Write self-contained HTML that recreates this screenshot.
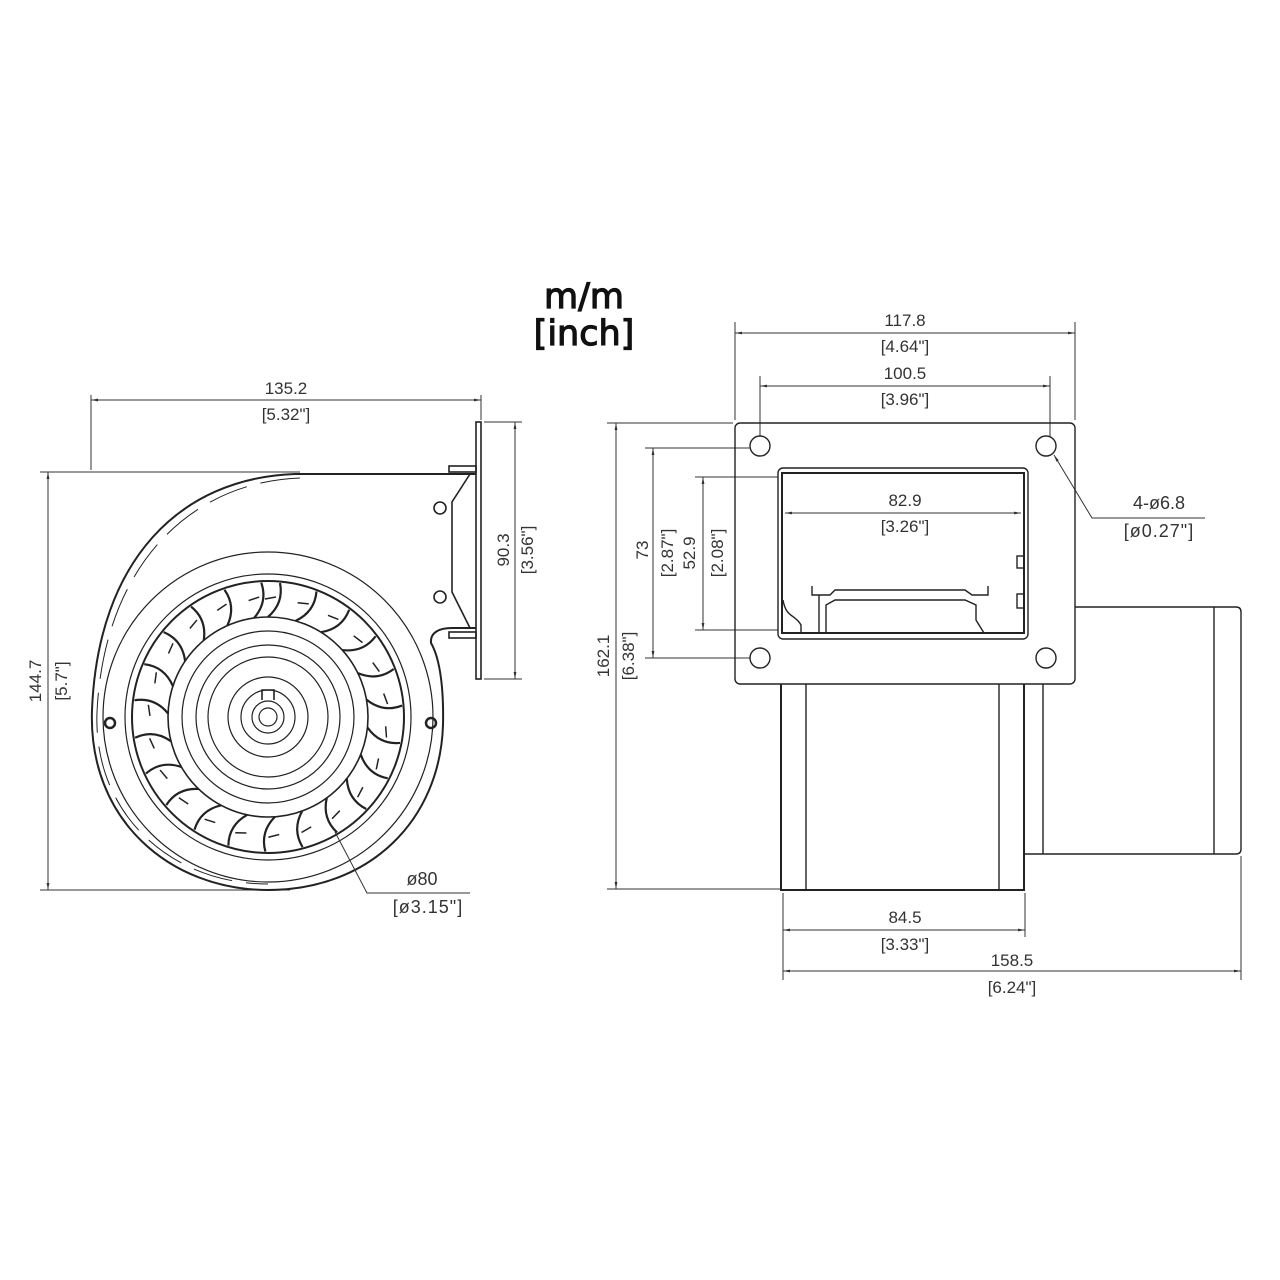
<!DOCTYPE html>
<html><head><meta charset="utf-8"><style>
html,body{margin:0;padding:0;background:#fff;}
svg{display:block;}
text{font-family:"Liberation Sans",Arial,sans-serif;fill:#333;font-size:17px;}
.t{font-family:"DejaVu Sans",sans-serif;fill:#111;font-size:35px;font-weight:normal;stroke:#111;stroke-width:1.2;}
</style></head><body>
<svg width="1280" height="1280" viewBox="0 0 1280 1280" xmlns="http://www.w3.org/2000/svg">
<defs>
<marker id="a" viewBox="0 0 10 10" refX="10" refY="5" markerWidth="7" markerHeight="7" orient="auto-start-reverse"><path d="M0,3 L10,5 L0,7 z" fill="#333"/></marker>
<g id="bl"><path d="M0,-100 Q16,-114 12,-134" fill="none" stroke="#222" stroke-width="2.2"/><path d="M-3,-118 L8,-120" stroke="#222" stroke-width="1.5"/></g>
</defs>
<text class="t" x="584" y="308" text-anchor="middle">m/m</text>
<text class="t" x="584" y="345" text-anchor="middle">[inch]</text>

<!-- LEFT VIEW -->
<g fill="none" stroke="#333" stroke-width="1">
<line x1="91" y1="395" x2="91" y2="470"/>
<line x1="481" y1="395" x2="481" y2="420"/>
<line x1="91" y1="400" x2="481" y2="400" marker-start="url(#a)" marker-end="url(#a)"/>
<line x1="40" y1="472" x2="300" y2="472"/>
<line x1="40" y1="890" x2="290" y2="890"/>
<line x1="48" y1="472" x2="48" y2="890" marker-start="url(#a)" marker-end="url(#a)"/>
<line x1="484" y1="422" x2="522" y2="422"/>
<line x1="484" y1="679" x2="522" y2="679"/>
<line x1="515" y1="422" x2="515" y2="679" marker-start="url(#a)" marker-end="url(#a)"/>
</g>
<text x="286" y="394" text-anchor="middle">135.2</text>
<text x="286" y="420" text-anchor="middle">[5.32"]</text>
<text transform="translate(41,681) rotate(-90)" text-anchor="middle">144.7</text>
<text transform="translate(67,681) rotate(-90)" text-anchor="middle">[5.7"]</text>
<text transform="translate(509,550) rotate(-90)" text-anchor="middle">90.3</text>
<text transform="translate(533,550) rotate(-90)" text-anchor="middle">[3.56"]</text>

<g fill="none" stroke="#222" stroke-width="1.6">
<rect x="476" y="422" width="5" height="257" fill="#fff"/>
<rect x="449" y="466" width="27" height="6"/>
<rect x="449" y="632" width="27" height="6"/>
<path d="M470,474 L452,502 L452,592 L470,628"/>
<circle cx="440" cy="508" r="6"/>
<circle cx="440" cy="597" r="6"/>
<path d="M476,474 L295,474 C180,478 98,560 92,710 C88,820 170,890 268,890 C370,890 440,820 443,725 C444,680 438,655 431,643 C430,632 440,628 452,628 L476,628" stroke-width="2"/>
<path d="M300,478 C190,482 104,566 97,712 C93,815 172,884 268,884" stroke-width="1" stroke-dasharray="40 14"/>
<circle cx="268" cy="717" r="165" stroke-width="1.2"/>
<circle cx="268" cy="717" r="143" stroke-width="1.2"/>
<circle cx="268" cy="717" r="136" stroke-width="2"/>
<circle cx="268" cy="717" r="100" stroke-width="1.6"/>
<circle cx="268" cy="717" r="86" stroke-width="1.2"/>
<circle cx="268" cy="717" r="72" stroke-width="1.2"/>
<circle cx="268" cy="717" r="60" stroke-width="1.2"/>
<circle cx="268" cy="717" r="40" stroke-width="1.2"/>
<circle cx="268" cy="717" r="27" stroke-width="1.2"/>
<circle cx="268" cy="717" r="16" stroke-width="1.2"/>
<circle cx="268" cy="717" r="9" stroke-width="1.2"/>
<path d="M262,700 L262,690 L274,690 L274,700"/>
<circle cx="110" cy="723" r="5" stroke-width="2.5"/>
<circle cx="431" cy="723" r="5" stroke-width="2.5"/>
</g>
<g transform="translate(268,717)">
<use href="#bl" transform="rotate(0)"/><use href="#bl" transform="rotate(16)"/><use href="#bl" transform="rotate(32)"/><use href="#bl" transform="rotate(48)"/><use href="#bl" transform="rotate(64)"/><use href="#bl" transform="rotate(80)"/><use href="#bl" transform="rotate(96)"/><use href="#bl" transform="rotate(112)"/><use href="#bl" transform="rotate(128)"/><use href="#bl" transform="rotate(144)"/><use href="#bl" transform="rotate(160)"/><use href="#bl" transform="rotate(176)"/><use href="#bl" transform="rotate(192)"/><use href="#bl" transform="rotate(208)"/><use href="#bl" transform="rotate(224)"/><use href="#bl" transform="rotate(240)"/><use href="#bl" transform="rotate(256)"/><use href="#bl" transform="rotate(272)"/><use href="#bl" transform="rotate(288)"/><use href="#bl" transform="rotate(304)"/><use href="#bl" transform="rotate(320)"/><use href="#bl" transform="rotate(336)"/><use href="#bl" transform="rotate(352)"/>
</g>
<path d="M335,832 L367,893 L470,893" fill="none" stroke="#333" stroke-width="1"/>
<text x="422" y="885" text-anchor="middle" style="font-size:18px">ø80</text>
<text x="428" y="913" text-anchor="middle" style="font-size:18px;letter-spacing:1px">[ø3.15"]</text>

<!-- RIGHT VIEW -->
<g fill="none" stroke="#333" stroke-width="1">
<line x1="735" y1="322" x2="735" y2="420"/>
<line x1="1075" y1="322" x2="1075" y2="420"/>
<line x1="735" y1="333" x2="1075" y2="333" marker-start="url(#a)" marker-end="url(#a)"/>
<line x1="760" y1="376" x2="760" y2="436"/>
<line x1="1050" y1="376" x2="1050" y2="436"/>
<line x1="760" y1="386" x2="1050" y2="386" marker-start="url(#a)" marker-end="url(#a)"/>
<line x1="785" y1="513" x2="1021" y2="513" marker-start="url(#a)" marker-end="url(#a)"/>
<line x1="783" y1="893" x2="783" y2="980"/>
<line x1="1025" y1="893" x2="1025" y2="937"/>
<line x1="1241" y1="856" x2="1241" y2="980"/>
<line x1="783" y1="930" x2="1025" y2="930" marker-start="url(#a)" marker-end="url(#a)"/>
<line x1="783" y1="971" x2="1241" y2="971" marker-start="url(#a)" marker-end="url(#a)"/>
<line x1="607" y1="423" x2="733" y2="423"/>
<line x1="607" y1="889" x2="780" y2="889"/>
<line x1="616" y1="423" x2="616" y2="889" marker-start="url(#a)" marker-end="url(#a)"/>
<line x1="645" y1="448" x2="750" y2="448"/>
<line x1="645" y1="658" x2="750" y2="658"/>
<line x1="653" y1="448" x2="653" y2="658" marker-start="url(#a)" marker-end="url(#a)"/>
<line x1="695" y1="477" x2="778" y2="477"/>
<line x1="695" y1="630" x2="778" y2="630"/>
<line x1="703" y1="477" x2="703" y2="630" marker-start="url(#a)" marker-end="url(#a)"/>
<path d="M1054,455 L1092,518 L1205,518" marker-start="url(#a)"/>
</g>
<text x="905" y="326" text-anchor="middle">117.8</text>
<text x="905" y="352" text-anchor="middle">[4.64"]</text>
<text x="905" y="379" text-anchor="middle">100.5</text>
<text x="905" y="405" text-anchor="middle">[3.96"]</text>
<text x="905" y="506" text-anchor="middle">82.9</text>
<text x="905" y="532" text-anchor="middle">[3.26"]</text>
<text x="905" y="923" text-anchor="middle">84.5</text>
<text x="905" y="950" text-anchor="middle">[3.33"]</text>
<text x="1012" y="966" text-anchor="middle">158.5</text>
<text x="1012" y="993" text-anchor="middle">[6.24"]</text>
<text x="1159" y="509" text-anchor="middle" style="font-size:18px">4-ø6.8</text>
<text x="1159" y="537" text-anchor="middle" style="font-size:18px;letter-spacing:1px">[ø0.27"]</text>
<text transform="translate(609,656) rotate(-90)" text-anchor="middle">162.1</text>
<text transform="translate(634,656) rotate(-90)" text-anchor="middle">[6.38"]</text>
<text transform="translate(648,550) rotate(-90)" text-anchor="middle">73</text>
<text transform="translate(673,553) rotate(-90)" text-anchor="middle">[2.87"]</text>
<text transform="translate(695,553) rotate(-90)" text-anchor="middle">52.9</text>
<text transform="translate(723,553) rotate(-90)" text-anchor="middle">[2.08"]</text>

<g fill="none" stroke="#222" stroke-width="1.4">
<rect x="735" y="423" width="340" height="261" rx="5"/>
<circle cx="760" cy="446" r="10"/>
<circle cx="1046" cy="446" r="10"/>
<circle cx="760" cy="658" r="10"/>
<circle cx="1046" cy="658" r="10"/>
<rect x="778" y="468" width="250" height="171" rx="5"/>
<rect x="782" y="473" width="242" height="160" stroke-width="2"/>
<path d="M783,600 C786,618 795,614 801,625 L801,633"/>
<path d="M812,586 L812,595 L819,595 L819,633 M819,595 L830,595 L835,590 L965,590 L972,595 L988,595 L988,586"/>
<path d="M826,633 L826,605 L835,600 L965,600 L976,605 L976,620 L984,633"/>
<rect x="1017" y="556" width="7" height="12"/>
<rect x="1017" y="594" width="7" height="14"/>
<path d="M781,684 L781,890 L1024,890 L1024,684" stroke-width="2"/>
<line x1="806" y1="684" x2="806" y2="890"/>
<line x1="999" y1="684" x2="999" y2="890"/>
<path d="M1075,607 L1236,607 Q1241,607 1241,612 L1241,849 Q1241,854 1236,854 L1024,854"/>
<line x1="1043" y1="684" x2="1043" y2="854"/>
<line x1="1214" y1="607" x2="1214" y2="854"/>
</g>
</svg>
</body></html>
